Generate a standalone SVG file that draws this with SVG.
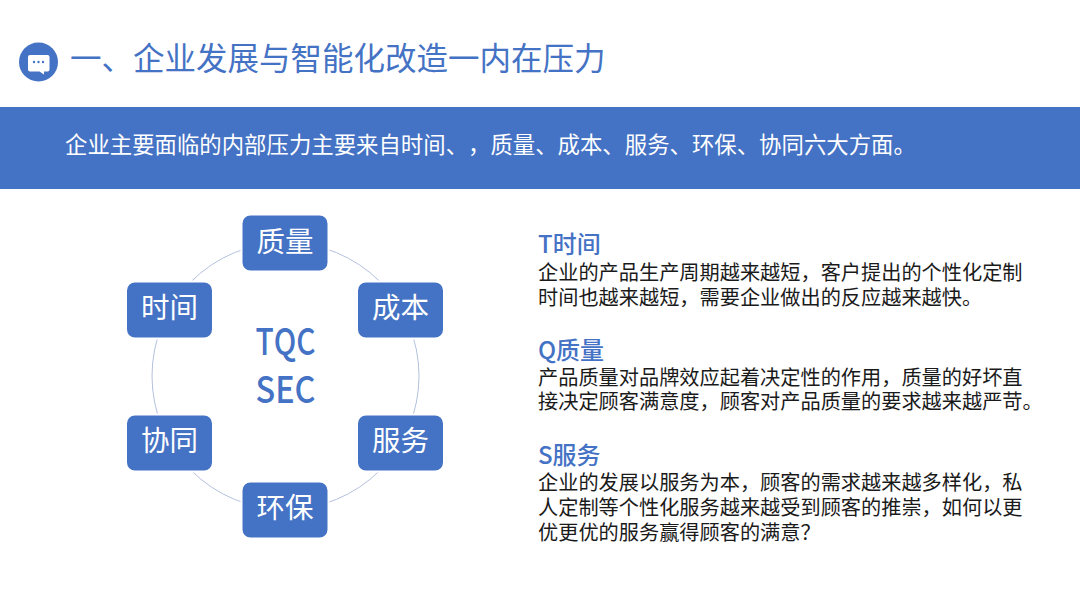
<svg xmlns="http://www.w3.org/2000/svg" width="1080" height="607" viewBox="0 0 1080 607">
<style>
text{font-family:"Noto Sans CJK SC","Noto Sans",sans-serif;text-spacing-trim:space-all;font-kerning:none}
.n rect{fill:#4472c4;stroke:#fff;stroke-width:2}
.n text{fill:#fff;font-size:28.5px;text-anchor:middle}
.h{fill:#4472c4;font-size:24px;font-weight:500}
.b{fill:#1a1a1a;font-size:20.2px}
.c{fill:#4472c4;font-size:37px;font-weight:500;text-anchor:middle}
</style>
<rect width="1080" height="607" fill="#fff"/>
<g id="title">
<circle cx="38.500" cy="62" r="19.500" fill="#4472c4"/>
<path d="M30 55h17.500a2 2 0 0 1 2 2v12.500a2 2 0 0 1-2 2h-3.500v3l-4.500-3h-9.500a2 2 0 0 1-2-2v-12.500a2 2 0 0 1 2-2z" fill="#fff"/>
<circle cx="34" cy="62" r="1.200" fill="#4472c4"/><circle cx="38.500" cy="62" r="1.200" fill="#4472c4"/><circle cx="43" cy="62" r="1.200" fill="#4472c4"/>
<text x="70" y="70" font-size="31.500" fill="#4472c4">一、企业发展与智能化改造一内在压力</text>
</g>
<g id="banner">
<rect x="0" y="107" width="1080" height="82" fill="#4472c4"/>
<text x="65" y="153" font-size="22.400" fill="#fff">企业主要面临的内部压力主要来自时间、，质量、成本、服务、环保、协同六大方面。</text>
</g>
<g id="connectors"><circle cx="285.500" cy="376" r="133.500" fill="none" stroke="#b4c1de" stroke-width="1"/></g>
<g id="n-quality" class="n"><rect x="241.500" y="214.500" width="87" height="57" rx="9"/><text x="285" y="252">质量</text></g>
<g id="n-cost" class="n"><rect x="357" y="281.500" width="87" height="57" rx="9"/><text x="400.500" y="318">成本</text></g>
<g id="n-service" class="n"><rect x="357" y="414.500" width="87" height="57" rx="9"/><text x="400.500" y="451">服务</text></g>
<g id="n-env" class="n"><rect x="241.500" y="481.500" width="87" height="57" rx="9"/><text x="285" y="518">环保</text></g>
<g id="n-collab" class="n"><rect x="126" y="414.500" width="87" height="57" rx="9"/><text x="169.500" y="451">协同</text></g>
<g id="n-time" class="n"><rect x="126" y="281.500" width="87" height="57" rx="9"/><text x="169.500" y="318">时间</text></g>
<g id="center">
<text class="c" x="285.500" y="355" textLength="60" lengthAdjust="spacingAndGlyphs">TQC</text>
<text class="c" x="285.500" y="403" textLength="60" lengthAdjust="spacingAndGlyphs">SEC</text>
</g>
<g id="t-block">
<text class="h" x="538" y="253">T时间</text>
<text class="b" x="538" y="280">企业的产品生产周期越来越短，客户提出的个性化定制</text>
<text class="b" x="538" y="305">时间也越来越短，需要企业做出的反应越来越快。</text>
</g>
<g id="q-block">
<text class="h" x="538" y="359">Q质量</text>
<text class="b" x="538" y="385">产品质量对品牌效应起着决定性的作用，质量的好坏直</text>
<text class="b" x="538" y="409">接决定顾客满意度，顾客对产品质量的要求越来越严苛。</text>
</g>
<g id="s-block">
<text class="h" x="538" y="464">S服务</text>
<text class="b" x="538" y="490">企业的发展以服务为本，顾客的需求越来越多样化，私</text>
<text class="b" x="538" y="515">人定制等个性化服务越来越受到顾客的推崇，如何以更</text>
<text class="b" x="538" y="540">优更优的服务赢得顾客的满意？</text>
</g>
</svg>
